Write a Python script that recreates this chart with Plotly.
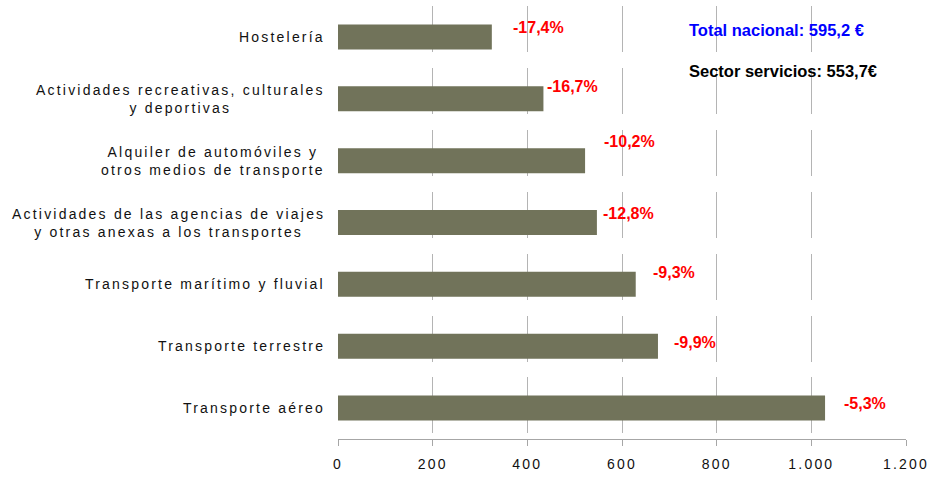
import plotly.graph_objects as go

# ---- data ----
categories = [
    "Hostelería",
    "Actividades recreativas, culturales y deportivas",
    "Alquiler de automóviles y otros medios de transporte",
    "Actividades de las agencias de viajes y otras anexas a los transportes",
    "Transporte marítimo y fluvial",
    "Transporte terrestre",
    "Transporte aéreo",
]
category_labels = [
    "Hostelería",
    "Actividades recreativas, culturales<br>y deportivas",
    "Alquiler de automóviles y<br>otros medios de transporte",
    "Actividades de las agencias de viajes<br>y otras anexas a los transportes",
    "Transporte marítimo y fluvial",
    "Transporte terrestre",
    "Transporte aéreo",
]
values = [325, 434, 522, 547, 629, 676, 1029]
variations = ["-17,4%", "-16,7%", "-10,2%", "-12,8%", "-9,3%", "-9,9%", "-5,3%"]
x_ticks = [0, 200, 400, 600, 800, 1000, 1200]
total_nacional = "Total nacional: 595,2 €"
sector_servicios = "Sector servicios: 553,7€"

# ---- styling ----
BAR_COLOR = "#71735A"
GRID_COLOR = "#b4b4b4"
AXIS_COLOR = "#a6a6a6"
SPACED_FONT = "Arimo, Liberation Sans, Arial"
label_xshift = [19, 2, 17, 4, 15, 14, 17]
label_yshift = [9, 12, 19, 9, 12, 4, 5]

fig = go.Figure()
fig.add_trace(go.Bar(
    x=values, y=categories, orientation="h",
    marker=dict(color=BAR_COLOR, line=dict(width=0)),
    hoverinfo="x+y", showlegend=False,
))

annotations = []
# category labels (centered multi-line, right edge next to the axis)
for cat, lab in zip(categories, category_labels):
    annotations.append(dict(
        x=0, xref="paper", y=cat, yref="y", text=lab, showarrow=False,
        xanchor="right", yanchor="middle", align="center", xshift=-11,
        font=dict(family=SPACED_FONT, size=14, color="#111111"),
    ))
# variation labels
for cat, v, t, dx, dy in zip(categories, values, variations, label_xshift, label_yshift):
    annotations.append(dict(
        x=v, xref="x", y=cat, yref="y", text="<b>%s</b>" % t, showarrow=False,
        xanchor="left", yanchor="middle", xshift=dx, yshift=dy,
        font=dict(family="Liberation Sans, Arial", size=16, color="#FF0000"),
    ))
annotations.append(dict(
    x=0.614, xref="paper", y=0.945, yref="paper", text="<b>%s</b>" % total_nacional,
    showarrow=False, xanchor="left", yanchor="middle",
    font=dict(family="Liberation Sans, Arial", size=16.5, color="#0000FF"),
))
annotations.append(dict(
    x=0.614, xref="paper", y=0.851, yref="paper", text="<b>%s</b>" % sector_servicios,
    showarrow=False, xanchor="left", yanchor="middle",
    font=dict(family="Liberation Sans, Arial", size=16.5, color="#000000"),
))

grid_dash = ",".join(["46", "15.9"] * 6 + ["56", "30"])

fig.update_layout(
    width=930, height=479,
    margin=dict(l=338, r=24, t=6, b=40, pad=0),
    paper_bgcolor="white", plot_bgcolor="white",
    bargap=0.596,
    separators=",.",
    annotations=annotations,
    xaxis=dict(
        range=[0, 1200], tickvals=x_ticks, separatethousands=True,
        showgrid=True, gridcolor=GRID_COLOR, gridwidth=1, griddash=grid_dash,
        zeroline=False, showline=True, linecolor=AXIS_COLOR, linewidth=1,
        ticks="outside", ticklen=6, tickcolor=AXIS_COLOR, tickwidth=1,
        ticklabelstandoff=6, automargin=False, ticklabeloverflow="allow",
        tickfont=dict(family=SPACED_FONT, size=14, color="#111111"),
        fixedrange=True,
    ),
    yaxis=dict(
        type="category", categoryorder="array", categoryarray=categories,
        autorange="reversed", showticklabels=False, showgrid=False,
        zeroline=False, showline=False, ticks="", fixedrange=True,
        automargin=False,
    ),
)

n_cat = len(categories)
post = """
var gd = document.getElementById('{plot_id}');
var st = document.createElement('style');
st.textContent = 'html,body{margin:0;padding:0;overflow:hidden;} text[style*="Arimo"]{letter-spacing:2.2px}';
document.head.appendChild(st);
var upd = {};
for (var i = 0; i < %d; i++) { upd['annotations[' + i + '].font.family'] = 'Arimo, Liberation Sans, Arial, sans-serif'; }
upd['xaxis.tickfont.family'] = 'Arimo, Liberation Sans, Arial, sans-serif';
Plotly.relayout(gd, upd);
""" % n_cat

fig.write_html("out.html", post_script=post, config={"displayModeBar": False})
